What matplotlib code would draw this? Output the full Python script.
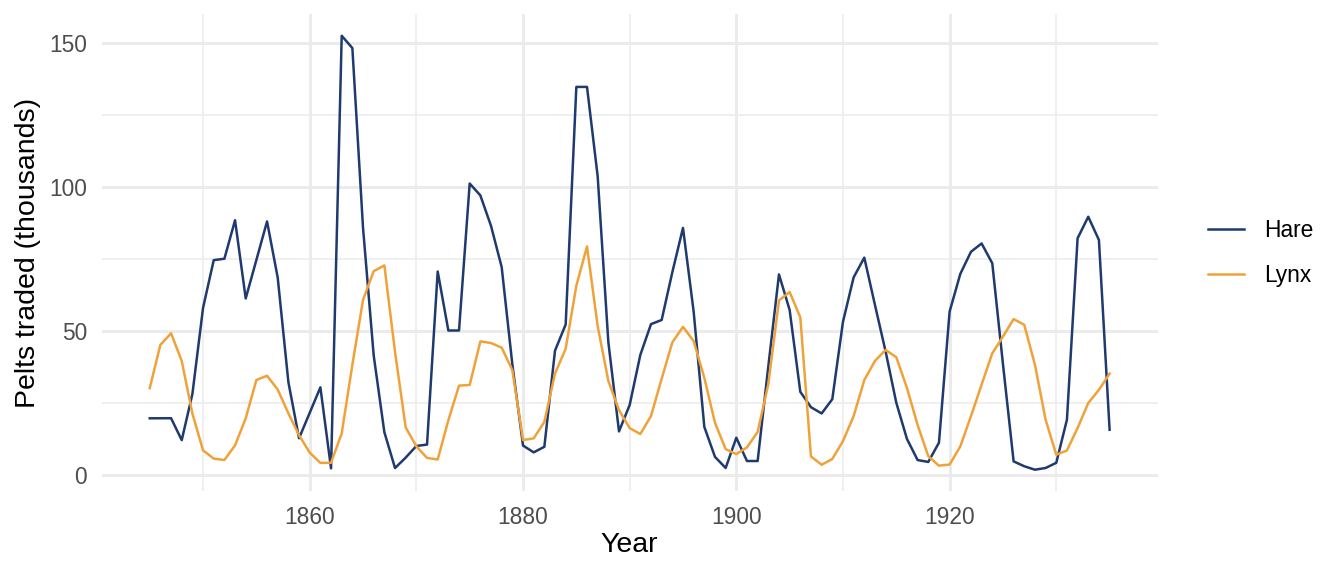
import matplotlib
matplotlib.use("Agg")
import matplotlib.pyplot as plt
from matplotlib.ticker import MultipleLocator

years = list(range(1845, 1936))

hare = [19.58, 19.60, 19.61, 11.99, 28.04, 58.00, 74.60, 75.09, 88.48, 61.28,
        74.67, 88.06, 68.51, 32.19, 12.64, 21.49, 30.35, 2.18, 152.65, 148.36,
        85.81, 41.41, 14.75, 2.28, 5.91, 9.95, 10.44, 70.64, 50.12, 50.13,
        101.25, 97.12, 86.51, 72.17, 38.32, 10.11, 7.74, 9.67, 43.12, 52.21,
        134.85, 134.86, 103.79, 46.10, 15.03, 24.20, 41.65, 52.34, 53.78, 70.40,
        85.81, 56.69, 16.59, 6.16, 2.30, 12.82, 4.72, 4.73, 37.65, 69.63,
        57.26, 28.80, 23.44, 21.27, 26.24, 53.14, 68.61, 75.47, 59.00, 42.80,
        25.00, 12.40, 5.06, 4.40, 11.10, 56.70, 69.80, 77.50, 80.40, 73.50,
        38.50, 4.60, 2.90, 1.70, 2.30, 4.10, 19.10, 82.20, 89.70, 81.60,
        15.60]

lynx = [30.09, 45.15, 49.15, 39.52, 21.23, 8.42, 5.56, 5.08, 10.17, 19.60,
        32.91, 34.38, 29.59, 21.30, 13.69, 7.65, 4.08, 4.09, 14.33, 38.22,
        60.78, 70.77, 72.77, 42.68, 16.39, 9.83, 5.80, 5.26, 18.91, 30.95,
        31.18, 46.34, 45.77, 44.15, 36.33, 12.03, 12.60, 18.34, 35.14, 43.77,
        65.69, 79.35, 51.65, 32.59, 22.45, 16.16, 14.12, 20.38, 33.33, 46.00,
        51.41, 46.43, 33.68, 18.01, 8.86, 7.13, 9.47, 14.86, 31.47, 60.57,
        63.51, 54.70, 6.30, 3.41, 5.44, 11.65, 20.35, 32.88, 39.55, 43.36,
        40.83, 30.15, 17.25, 6.40, 3.10, 3.50, 9.80, 20.30, 31.30, 42.20,
        48.00, 54.10, 52.10, 38.20, 19.10, 6.90, 8.40, 16.20, 24.90, 29.50,
        35.10]

series_names = ["Hare", "Lynx"]
colors = ["#1F3A6E", "#F0A23A"]

plt.rcParams["font.family"] = ["Liberation Sans", "DejaVu Sans"]

fig = plt.figure(figsize=(13.44, 5.76), dpi=100)
ax = fig.add_axes([0.0757, 0.1476, 0.7856, 0.828])

for vals, name, c in zip([hare, lynx], series_names, colors):
    ax.plot(years, vals, color=c, linewidth=1.8, label=name)

ax.set_xlim(1840.5, 1939.5)
ax.set_ylim(-5.7, 160.2)
ax.xaxis.set_major_locator(MultipleLocator(20))
ax.xaxis.set_minor_locator(MultipleLocator(10))
ax.yaxis.set_major_locator(MultipleLocator(50))
ax.yaxis.set_minor_locator(MultipleLocator(25))
ax.set_xticks([1860, 1880, 1900, 1920])

ax.grid(True, which="major", color="#EBEBEB", linewidth=2.15)
ax.grid(True, which="minor", color="#EBEBEB", linewidth=1.08)
ax.set_axisbelow(True)
for s in ax.spines.values():
    s.set_visible(False)
ax.tick_params(which="both", length=0, labelsize=16.4, labelcolor="#4D4D4D", pad=10.5)

ax.set_xlabel("Year", fontsize=20.5)
ax.set_ylabel("Pelts traded (thousands)", fontsize=20.5)
ax.xaxis.set_label_coords(0.5, -0.114)
ax.xaxis.label.set_va("center")
ax.yaxis.set_label_coords(-0.0703, 0.5)
ax.yaxis.label.set_va("center")

fig.legend(loc="center left", bbox_to_anchor=(0.8988, 0.5608), frameon=False,
           fontsize=16.4, handlelength=1.58, labelspacing=1.0, handletextpad=0.88,
           borderpad=0, borderaxespad=0)

fig.savefig("out.png", dpi=100)
